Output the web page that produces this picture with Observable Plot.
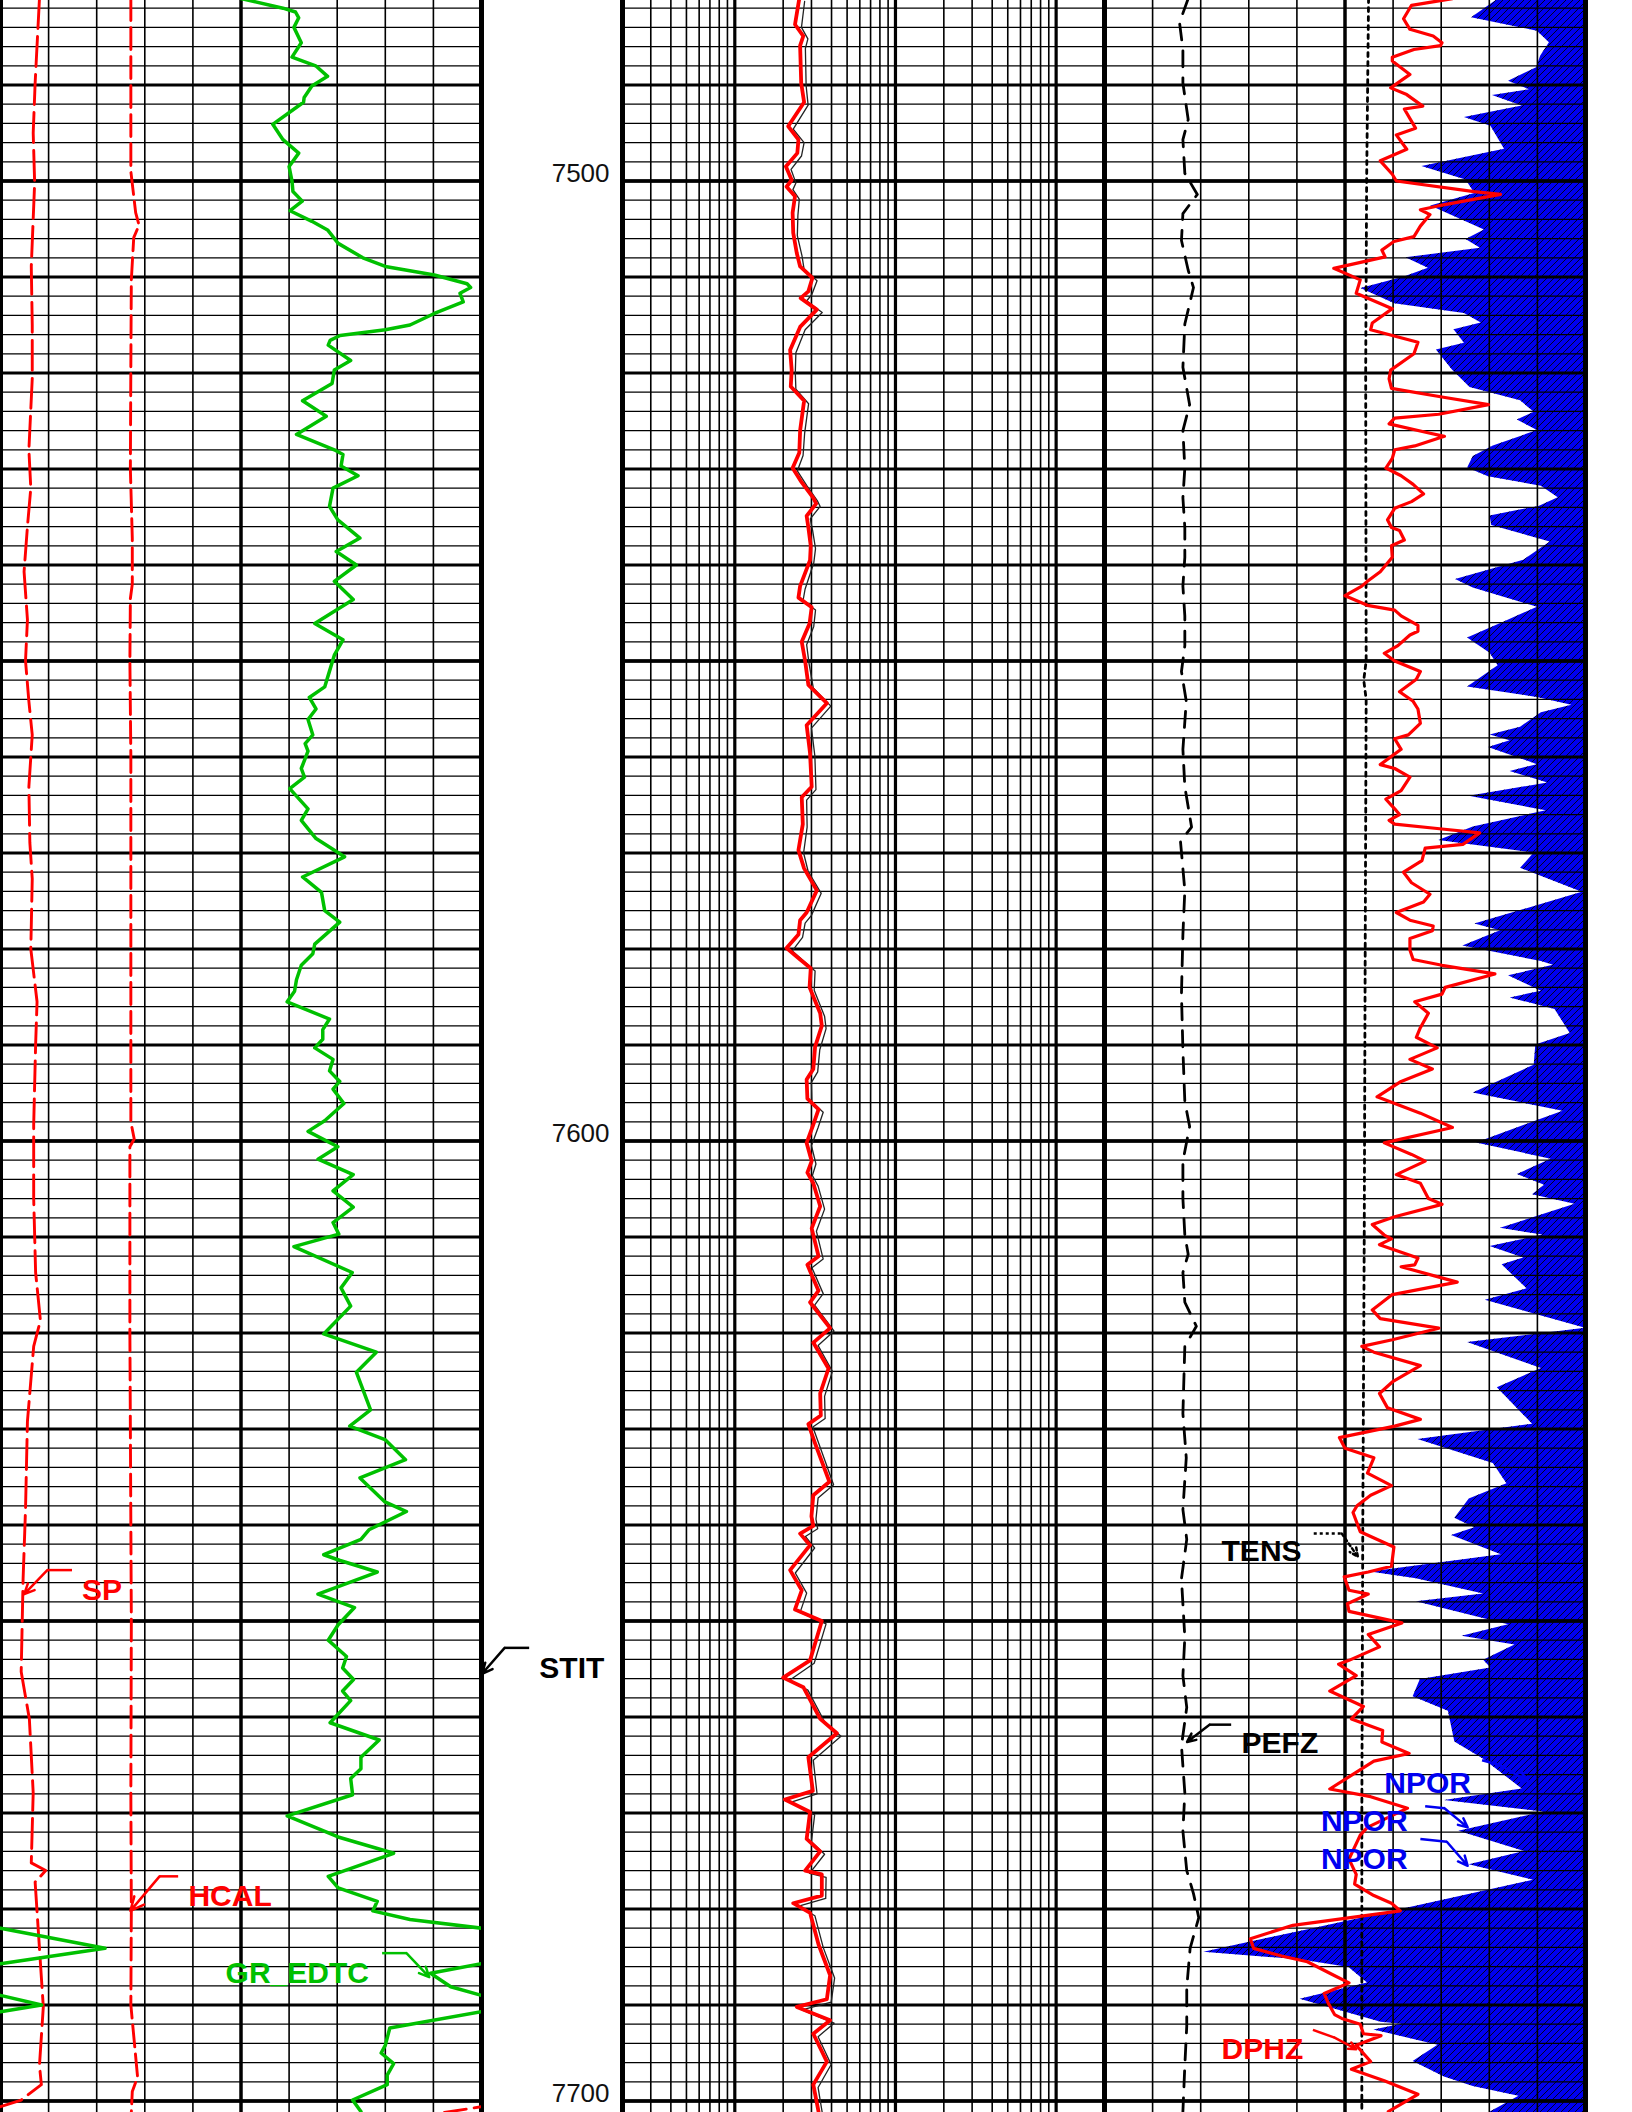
<!DOCTYPE html>
<html>
<head>
<meta charset="utf-8">
<script src="https://cdn.jsdelivr.net/npm/d3@7"></script>
<script src="https://cdn.jsdelivr.net/npm/@observablehq/plot@0.6"></script>
<style>
html, body { margin: 0; padding: 0; background: #fff; overflow: hidden; }
#log { position: relative; width: 1632px; height: 2112px; background: #fff; }
.trk { position: absolute; top: 0; }
</style>
</head>
<body>
<div id="log"></div>
<script>
// ---------------- DATA: [depth (ft), value] ----------------
// Track 1: GR_EDTC (gAPI, 0-150, wraps), SP (mV), HCAL (in)
const gr = [
[7481.0,75.0],[7482.0,88.1],[7482.4,92.0],[7483.0,93.0],[7484.0,91.5],[7485.6,93.8],[7487.1,90.9],[7488.0,98.3],
[7489.1,102.0],[7490.1,97.1],[7491.3,94.7],[7491.8,94.5],[7494.1,84.9],[7495.7,88.1],[7497.1,93.0],[7498.5,90.0],
[7500.0,90.9],[7501.1,91.2],[7502.1,94.1],[7503.1,90.3],[7504.2,97.1],[7505.1,102.0],[7506.5,105.3],[7508.0,113.0],
[7508.9,120.0],[7509.8,135.3],[7510.7,145.5],[7511.1,146.6],[7511.7,143.3],[7512.6,144.3],[7513.8,135.3],[7515.0,127.7],
[7515.5,120.0],[7516.1,105.9],[7516.6,102.8],[7517.1,102.2],[7518.7,109.2],[7519.7,104.1],[7521.1,103.4],[7522.9,94.2],
[7524.5,101.6],[7526.4,92.3],[7528.0,104.1],[7528.5,106.8],[7529.7,106.2],[7530.7,111.5],[7532.0,103.7],[7533.9,102.6],
[7535.3,105.2],[7537.2,112.1],[7538.6,104.7],[7540.0,111.0],[7541.7,104.1],[7543.6,110.0],[7546.1,98.0],[7547.8,106.8],
[7549.4,104.1],[7551.5,102.2],[7552.7,101.1],[7553.8,96.3],[7555.0,98.4],[7556.1,95.9],[7557.7,97.4],[7558.6,95.0],
[7559.4,95.9],[7561.2,93.8],[7562.1,94.8],[7563.3,90.2],[7565.4,95.9],[7566.6,93.8],[7568.5,98.4],[7570.4,107.3],
[7572.5,94.2],[7574.1,100.1],[7576.0,101.1],[7577.2,105.8],[7579.5,98.0],[7580.5,97.4],[7581.7,93.8],[7583.2,92.3],
[7584.4,91.7],[7585.5,89.4],[7587.3,102.6],[7588.4,100.5],[7589.4,100.5],[7590.3,98.0],[7591.5,103.7],[7592.7,102.6],
[7593.8,105.8],[7594.6,103.7],[7596.1,107.1],[7597.9,101.1],[7599.0,95.9],[7600.6,105.2],[7601.9,99.0],[7603.5,110.0],
[7605.2,103.7],[7606.9,110.0],[7608.5,103.7],[7609.7,105.5],[7611.0,91.5],[7613.7,109.7],[7615.3,106.2],[7617.2,109.2],
[7620.1,100.8],[7622.0,117.2],[7624.1,111.0],[7628.0,115.4],[7629.7,108.9],[7631.1,119.9],[7633.2,126.3],[7635.1,112.1],
[7637.6,119.9],[7638.6,126.6],[7640.5,114.9],[7641.5,112.4],[7643.1,100.8],[7643.7,105.9],[7644.9,117.5],[7647.2,99.0],
[7648.6,110.4],[7650.4,105.3],[7652.0,102.2],[7653.7,107.9],[7654.9,106.7],[7656.1,110.1],[7657.3,106.7],[7658.3,109.2],
[7660.6,102.8],[7662.4,118.1],[7664.2,112.4],[7665.4,112.4],[7666.4,109.2],[7668.1,109.8],[7670.3,89.4],[7672.5,105.3],
[7674.2,122.6],[7676.6,102.2],[7677.8,105.3],[7679.2,117.5],[7680.2,116.1],[7681.1,127.7],[7682.0,150.0],[7684.1,182.6],
[7685.7,150.0],[7686.7,134.1],[7688.1,140.4],[7689.0,150.0],[7690.0,162.8],[7690.7,150.0],[7692.4,121.4],[7694.2,120.0],
[7695.0,118.7],[7696.1,122.6],[7697.3,120.6],[7698.3,120.6],[7699.9,109.8],[7701.1,112.4]
];
const sp = [
[7481.0,-71.9],[7489.8,-72.8],[7495.0,-73.2],[7500.2,-72.9],[7508.9,-73.6],[7515.0,-73.4],[7520.6,-73.4],[7528.0,-74.1],
[7532.0,-73.7],[7536.0,-74.4],[7540.7,-75.1],[7545.7,-74.4],[7550.0,-74.8],[7554.2,-74.1],[7557.7,-73.4],[7563.1,-74.1],
[7568.9,-73.9],[7572.7,-73.4],[7580.0,-73.7],[7585.5,-72.4],[7590.0,-72.7],[7598.3,-73.1],[7606.0,-73.1],[7613.7,-72.7],
[7618.7,-71.7],[7621.4,-73.1],[7629.2,-74.4],[7638.4,-74.8],[7645.6,-75.3],[7655.3,-75.7],[7660.2,-74.0],[7667.9,-73.2],
[7675.2,-73.6],[7676.0,-70.6],[7677.2,-72.8],[7684.1,-71.9],[7690.2,-71.1],[7696.3,-71.9],[7698.3,-71.5],[7699.9,-75.7],
[7700.6,-80.0],[7701.2,-87.7]
];
const hcal = [
[7481.0,8.71],[7499.0,8.71],[7503.3,8.81],[7504.6,8.88],[7505.9,8.77],[7510.3,8.72],[7519.0,8.71],[7530.0,8.70],
[7537.2,8.74],[7542.0,8.74],[7543.5,8.70],[7550.0,8.69],[7560.0,8.71],[7580.0,8.71],[7598.0,8.71],[7599.8,8.78],
[7600.6,8.69],[7620.0,8.69],[7640.0,8.71],[7650.0,8.72],[7668.0,8.71],[7680.0,8.72],[7690.0,8.71],[7697.5,8.85],
[7699.0,8.74],[7701.2,8.72]
];
// Track 2: resistivity (ohm.m, log 0.2-200)
const resDeep = [
[7481.0,2.52],[7483.7,2.37],[7484.9,2.67],[7485.9,2.55],[7489.8,2.59],[7491.8,2.70],[7494.3,2.15],[7495.7,2.49],
[7497.1,2.45],[7498.5,2.08],[7499.9,2.26],[7500.6,2.10],[7501.6,2.37],[7503.3,2.29],[7505.4,2.31],[7507.5,2.43],
[7508.9,2.55],[7510.1,3.04],[7511.5,2.87],[7512.2,2.57],[7513.4,3.24],[7515.2,2.55],[7517.6,2.21],[7519.7,2.26],
[7521.4,2.23],[7522.9,2.70],[7526.0,2.55],[7528.3,2.52],[7529.9,2.29],[7531.4,2.61],[7533.0,3.08],[7533.6,3.21],
[7534.9,2.80],[7536.1,2.87],[7538.0,2.97],[7539.5,2.94],[7542.2,2.55],[7543.4,2.49],[7544.4,3.01],[7546.1,2.92],
[7548.0,2.61],[7550.0,2.74],[7552.5,2.87],[7554.4,3.74],[7556.7,2.80],[7559.6,2.94],[7563.1,3.01],[7564.2,2.61],
[7567.0,2.65],[7569.7,2.49],[7571.6,2.70],[7573.9,3.24],[7576.2,2.80],[7577.0,2.55],[7578.5,2.49],[7579.9,2.10],
[7581.1,2.55],[7582.0,2.97],[7584.0,2.92],[7586.7,3.40],[7588.0,3.48],[7590.2,3.16],[7592.5,3.08],[7593.6,2.80],
[7595.6,2.83],[7596.7,3.32],[7598.3,3.08],[7600.2,2.80],[7602.1,3.01],[7603.3,2.83],[7604.4,3.08],[7606.8,3.40],
[7609.1,3.01],[7612.0,3.32],[7612.9,2.83],[7615.6,3.32],[7616.8,2.94],[7619.5,3.92],[7621.0,3.08],[7623.7,3.83],
[7626.3,3.40],[7628.6,3.43],[7629.5,2.87],[7631.5,3.16],[7635.5,3.88],[7636.9,3.08],[7639.1,3.00],[7640.1,3.08],
[7640.9,2.55],[7642.1,2.94],[7644.7,2.21],[7646.8,2.61],[7648.8,2.37],[7650.0,3.48],[7654.1,2.94],[7655.9,2.00],
[7656.9,2.67],[7660.2,3.40],[7661.7,4.32],[7664.2,2.87],[7667.7,3.06],[7668.6,2.05],[7669.9,2.94],[7672.7,2.80],
[7674.0,3.40],[7676.0,2.74],[7676.4,3.48],[7678.6,3.48],[7679.4,2.31],[7680.4,2.94],[7683.7,3.32],[7686.9,3.92],
[7689.4,3.74],[7690.2,2.43],[7691.6,3.92],[7693.0,3.08],[7695.9,3.74],[7698.3,3.08],[7701.1,3.32]
];
const resShallow = [
[7481.3,2.72],[7484.0,2.60],[7485.2,2.85],[7486.2,2.75],[7490.1,2.78],[7492.1,2.86],[7494.6,2.31],[7496.0,2.70],
[7497.4,2.60],[7498.8,2.24],[7500.2,2.40],[7500.9,2.30],[7501.9,2.52],[7503.6,2.47],[7505.7,2.45],[7507.8,2.62],
[7509.2,2.70],[7510.4,3.25],[7511.8,3.02],[7512.5,2.80],[7513.7,3.50],[7515.5,2.74],[7517.9,2.40],[7520.0,2.38],
[7521.7,2.40],[7523.2,2.88],[7526.3,2.72],[7528.6,2.66],[7530.2,2.45],[7531.7,2.80],[7533.3,3.26],[7533.9,3.40],
[7535.2,2.95],[7536.4,3.05],[7538.3,3.18],[7539.8,3.10],[7542.5,2.74],[7543.7,2.66],[7544.7,3.18],[7546.4,3.10],
[7548.3,2.80],[7550.3,2.90],[7552.8,3.08],[7554.7,3.96],[7557.0,3.00],[7559.9,3.15],[7563.4,3.20],[7564.5,2.80],
[7567.3,2.82],[7570.0,2.68],[7571.9,2.86],[7574.2,3.45],[7576.5,3.00],[7577.3,2.74],[7578.8,2.64],[7580.2,2.28],
[7581.4,2.75],[7582.3,3.16],[7584.3,3.12],[7587.0,3.62],[7588.3,3.70],[7590.5,3.38],[7592.8,3.28],[7593.9,3.00],
[7595.9,3.02],[7597.0,3.55],[7598.6,3.30],[7600.5,3.00],[7602.4,3.20],[7603.6,3.04],[7604.7,3.30],[7607.1,3.62],
[7609.4,3.22],[7612.3,3.55],[7613.2,3.02],[7615.9,3.55],[7617.1,3.14],[7619.8,4.15],[7621.3,3.30],[7624.0,4.05],
[7626.6,3.62],[7628.9,3.65],[7629.8,3.06],[7631.8,3.38],[7635.8,4.12],[7637.2,3.30],[7639.4,3.20],[7640.4,3.28],
[7641.2,2.75],[7642.4,3.14],[7645.0,2.38],[7647.1,2.80],[7649.1,2.55],[7650.3,3.70],[7654.4,3.12],[7656.2,2.18],
[7657.2,2.85],[7660.5,3.62],[7662.0,4.58],[7664.5,3.08],[7668.0,3.25],[7668.9,2.22],[7670.2,3.14],[7673.0,3.00],
[7674.3,3.62],[7676.3,2.92],[7676.7,3.70],[7678.9,3.68],[7679.7,2.50],[7680.7,3.15],[7684.0,3.55],[7687.2,4.18],
[7689.7,3.98],[7690.5,2.62],[7691.9,4.15],[7693.3,3.30],[7696.2,3.98],[7698.6,3.30],[7701.2,3.50]
];
// Track 3: DPHZ, NPOR (v/v, 0.45 to -0.15), PEFZ (b/e, 0-10), TENS (lbf, 0-10000)
const dphz = [
[7481.0,0.016],[7481.7,0.067],[7483.1,0.077],[7484.2,0.069],[7484.9,0.040],[7485.6,0.029],[7485.9,0.031],[7486.3,0.064],
[7487.1,0.091],[7487.5,0.091],[7488.9,0.069],[7490.3,0.093],[7491.0,0.073],[7492.2,0.053],[7492.5,0.076],[7494.5,0.062],
[7495.2,0.086],[7496.7,0.073],[7497.9,0.106],[7499.3,0.091],[7500.0,0.086],[7501.1,-0.011],[7501.4,-0.044],[7502.6,0.034],
[7503.0,0.056],[7503.5,0.044],[7504.7,0.056],[7505.8,0.064],[7506.3,0.089],[7507.2,0.104],[7507.9,0.100],[7509.1,0.164],
[7510.3,0.131],[7511.7,0.136],[7513.3,0.091],[7514.8,0.116],[7515.5,0.118],[7516.8,0.059],[7518.0,0.064],[7519.7,0.093],
[7520.6,0.095],[7521.6,0.092],[7522.5,0.029],[7523.3,-0.029],[7524.3,0.033],[7524.7,0.088],[7525.3,0.095],[7526.2,0.048],
[7526.6,0.026],[7527.6,0.063],[7528.0,0.088],[7528.9,0.091],[7529.9,0.099],[7530.7,0.080],[7531.6,0.065],[7532.6,0.052],
[7533.4,0.067],[7534.1,0.088],[7535.3,0.097],[7536.1,0.092],[7536.4,0.082],[7537.4,0.076],[7538.0,0.092],[7539.2,0.091],
[7540.7,0.106],[7541.7,0.122],[7542.2,0.129],[7543.2,0.150],[7544.2,0.122],[7544.7,0.088],[7545.3,0.080],[7546.3,0.059],
[7546.9,0.059],[7547.3,0.069],[7548.4,0.084],[7549.2,0.101],[7550.0,0.088],[7551.1,0.056],[7551.9,0.061],[7553.2,0.082],
[7554.2,0.065],[7555.0,0.059],[7556.5,0.056],[7557.7,0.071],[7558.1,0.088],[7559.2,0.080],[7560.8,0.106],[7561.2,0.088],
[7562.1,0.069],[7563.5,0.080],[7564.4,0.099],[7565.4,0.088],[7566.0,0.082],[7566.6,0.095],[7567.0,0.088],[7567.5,0.029],
[7567.9,-0.018],[7569.1,0.003],[7569.5,0.050],[7570.8,0.054],[7572.0,0.077],[7573.1,0.067],[7574.3,0.044],[7575.1,0.052],
[7576.2,0.086],[7577.0,0.069],[7577.6,0.040],[7578.1,0.041],[7578.9,0.069],[7580.1,0.069],[7581.1,0.065],[7581.7,0.029],
[7582.6,-0.037],[7584.0,0.025],[7584.7,0.029],[7585.5,0.063],[7586.7,0.046],[7588.2,0.056],[7589.2,0.061],[7590.3,0.035],
[7591.5,0.069],[7592.5,0.041],[7593.8,0.080],[7595.4,0.110],[7597.1,0.056],[7598.6,0.016],[7600.2,0.101],[7601.4,0.067],
[7602.1,0.050],[7603.5,0.086],[7604.4,0.056],[7606.0,0.046],[7606.6,0.029],[7607.9,0.088],[7608.7,0.116],[7609.8,0.101],
[7610.2,0.092],[7610.8,0.107],[7612.2,0.059],[7612.9,0.063],[7613.1,0.080],[7614.7,0.010],[7616.0,0.091],[7617.6,0.116],
[7618.5,0.106],[7619.5,0.033],[7620.7,0.091],[7621.4,0.129],[7622.0,0.114],[7623.4,0.056],[7625.1,0.091],[7626.3,0.107],
[7627.8,0.097],[7629.0,0.056],[7629.7,0.088],[7630.9,0.157],[7632.0,0.150],[7633.0,0.114],[7634.6,0.122],[7635.9,0.092],
[7636.9,0.118],[7638.0,0.135],[7638.7,0.140],[7640.7,0.131],[7642.3,0.089],[7644.3,0.092],[7644.9,0.121],[7645.4,0.151],
[7646.8,0.145],[7647.2,0.121],[7648.2,0.147],[7649.0,0.145],[7650.2,0.079],[7651.4,0.121],[7652.7,0.107],[7654.1,0.145],
[7654.5,0.158],[7655.7,0.136],[7657.3,0.169],[7658.9,0.127],[7660.2,0.142],[7661.4,0.103],[7662.6,0.104],[7663.8,0.070],
[7664.6,0.114],[7667.5,0.169],[7668.3,0.118],[7669.5,0.072],[7671.5,0.122],[7672.3,0.131],[7674.8,0.145],[7676.4,0.136],
[7677.4,0.138],[7678.6,0.114],[7679.4,0.092],[7680.2,0.081],[7681.7,0.215],[7683.1,0.268],[7684.1,0.264],[7684.9,0.229],
[7685.5,0.197],[7686.9,0.164],[7687.7,0.145],[7688.8,0.176],[7689.8,0.171],[7691.0,0.163],[7691.4,0.154],[7692.0,0.131],
[7693.0,0.127],[7693.2,0.105],[7694.2,0.136],[7695.9,0.118],[7696.7,0.142],[7697.9,0.101],[7699.3,0.059],[7701.1,0.096]
];
const npor = [
[7481.0,-0.042],[7483.0,-0.008],[7484.4,-0.090],[7485.6,-0.105],[7487.0,-0.094],[7488.2,-0.089],[7489.6,-0.054],[7490.5,-0.080],
[7491.1,-0.034],[7492.2,-0.071],[7493.4,0.001],[7494.3,-0.032],[7496.7,-0.049],[7498.5,0.054],[7499.9,-0.001],[7501.3,-0.012],
[7502.6,0.043],[7505.1,-0.024],[7506.1,-0.001],[7507.0,-0.019],[7508.0,0.074],[7509.1,0.046],[7510.0,0.076],[7511.2,0.130],
[7512.8,0.088],[7513.8,0.001],[7514.8,-0.020],[7515.5,0.014],[7516.9,0.001],[7517.6,0.036],[7519.7,0.016],[7521.5,-0.006],
[7522.9,-0.069],[7524.1,-0.086],[7524.9,-0.065],[7526.0,-0.090],[7527.6,-0.035],[7528.7,-0.010],[7529.9,-0.003],[7530.8,-0.029],
[7531.8,-0.095],[7533.0,-0.116],[7533.9,-0.092],[7534.9,-0.031],[7535.9,-0.033],[7537.6,-0.106],[7539.5,-0.073],[7541.5,0.012],
[7542.4,-0.010],[7544.4,-0.090],[7545.9,-0.050],[7547.6,-0.003],[7549.2,-0.031],[7550.5,-0.041],[7552.7,-0.003],[7553.8,-0.090],
[7554.6,-0.133],[7555.4,-0.095],[7556.9,-0.069],[7557.7,-0.031],[7558.3,-0.056],[7559.0,-0.029],[7560.8,-0.090],[7561.5,-0.056],
[7562.7,-0.103],[7564.1,-0.005],[7565.6,-0.101],[7567.3,-0.010],[7568.7,0.033],[7570.0,-0.086],[7571.6,-0.069],[7574.1,-0.146],
[7577.4,-0.012],[7578.1,-0.044],[7579.7,0.003],[7581.3,-0.095],[7581.7,-0.110],[7582.8,-0.054],[7584.4,-0.095],[7585.1,-0.056],
[7586.3,-0.112],[7588.8,-0.131],[7590.0,-0.088],[7592.1,-0.086],[7595.0,-0.010],[7596.9,-0.122],[7600.2,-0.014],[7601.9,-0.107],
[7603.5,-0.065],[7604.6,-0.099],[7605.6,-0.084],[7606.6,-0.137],[7609.1,-0.044],[7609.8,-0.097],[7611.0,-0.031],[7612.2,-0.073],
[7612.9,-0.046],[7615.4,-0.077],[7616.6,-0.025],[7619.5,-0.150],[7621.0,-0.003],[7623.7,-0.095],[7625.7,-0.040],[7629.5,-0.084],
[7631.1,0.059],[7633.6,-0.035],[7635.7,-0.052],[7637.3,-0.005],[7639.3,0.013],[7640.3,-0.012],[7641.1,0.017],[7643.1,-0.045],
[7644.9,0.118],[7645.6,0.061],[7647.2,-0.023],[7648.0,0.061],[7650.4,-0.054],[7651.6,0.004],[7652.5,-0.062],[7654.1,-0.023],
[7654.9,-0.032],[7656.1,0.056],[7657.9,0.065],[7659.4,0.021],[7662.6,0.013],[7664.4,-0.023],[7667.5,-0.071],[7668.7,0.026],
[7669.9,-0.098],[7671.9,0.008],[7674.0,-0.074],[7675.4,-0.005],[7677.0,-0.085],[7679.6,0.056],[7682.1,0.193],[7684.5,0.326],
[7685.3,0.206],[7686.1,0.145],[7687.7,0.122],[7689.4,0.206],[7691.8,0.105],[7692.0,0.079],[7692.6,0.114],[7694.2,0.034],
[7695.9,0.065],[7697.5,0.026],[7698.5,-0.010],[7699.5,-0.067],[7700.7,-0.041],[7701.2,-0.030]
];
const pefz = [
[7481.0,1.74],[7483.5,1.56],[7486.3,1.63],[7489.8,1.63],[7493.6,1.74],[7495.7,1.63],[7499.2,1.67],[7501.4,1.93],
[7503.4,1.63],[7506.2,1.60],[7509.3,1.74],[7511.1,1.85],[7514.9,1.67],[7519.4,1.63],[7523.3,1.77],[7526.0,1.63],
[7529.9,1.67],[7533.0,1.63],[7536.1,1.67],[7539.2,1.67],[7542.2,1.63],[7545.3,1.67],[7548.4,1.67],[7551.1,1.60],
[7554.2,1.70],[7559.2,1.63],[7563.1,1.67],[7567.3,1.81],[7568.8,1.58],[7573.9,1.67],[7578.5,1.63],[7584.7,1.60],
[7590.5,1.63],[7595.9,1.67],[7598.5,1.77],[7602.1,1.63],[7606.0,1.63],[7609.8,1.67],[7611.8,1.74],[7613.7,1.63],
[7616.8,1.67],[7619.3,1.91],[7621.4,1.67],[7628.4,1.63],[7633.0,1.70],[7638.4,1.63],[7641.5,1.71],[7645.6,1.60],
[7651.7,1.67],[7655.7,1.63],[7659.0,1.71],[7663.0,1.60],[7667.9,1.67],[7671.9,1.63],[7676.0,1.71],[7678.4,1.85],
[7680.9,1.96],[7684.1,1.78],[7688.2,1.71],[7692.2,1.71],[7696.3,1.67],[7701.1,1.63]
];
const tens = [
[7481.0,5490],[7500.0,5450],[7520.0,5430],[7550.0,5440],[7552.0,5390],[7554.0,5440],[7580.0,5420],[7610.0,5400],
[7640.0,5370],[7670.0,5350],[7701.2,5350]
];
// Depth labels
const depthLabels = [7500, 7600, 7700];
// Curve labels: [name, depth, x-in-track-units]
const labels1 = [["SP", 7646.8, 25.4], ["HCAL", 7678.7, 58.6], ["GR_EDTC", 7686.7, 70.2]];
const labelsDepth = [["STIT", 7654.9, 0.41]];
const labels3 = [["TENS", 7642.7, 0.304], ["PEFZ", 7662.8, 0.279], ["NPOR", 7666.9, 0.101], ["NPOR", 7670.9, 0.18], ["NPOR", 7674.8, 0.18], ["DPHZ", 7694.6, 0.304]];
// Callout arrows: [name, flagDepth, flagX, elbowDepth, elbowX, tipDepth, tipX]
const arrows1 = [["SP", 7644.7, 22.3, 7644.7, 14.6, 7647.2, 7.4], ["HCAL", 7676.6, 55.4, 7676.6, 49.6, 7680.2, 40.5], ["GR_EDTC", 7684.6, 119.0, 7684.6, 126.6, 7687.1, 133.7]];
const arrowsDepth = [["STIT", 7652.8, 0.338, 7652.8, 0.164, 7655.5, 0.004]];
const arrows3 = [["TENS", 7640.9, 0.189, 7640.9, 0.154, 7643.3, 0.134], ["PEFZ", 7660.8, 0.292, 7660.8, 0.319, 7662.6, 0.347],
  ["NPOR", 7664.5, -0.021, 7665.0, -0.043, 7666.7, -0.078], ["NPOR", 7669.3, 0.050, 7669.5, 0.026, 7671.5, -0.003],
  ["NPOR", 7672.7, 0.056, 7673.0, 0.023, 7675.5, -0.003], ["DPHZ", 7692.6, 0.190, 7693.4, 0.163, 7694.6, 0.136]];

// ---------------- LAYOUT / STYLE ----------------
const RED = "#ff0000", GREEN = "#00c000", BLUE = "#0000f0", BLACK = "#000000";
const colorOf = {SP: RED, HCAL: RED, GR_EDTC: GREEN, STIT: BLACK, TENS: BLACK, PEFZ: BLACK, NPOR: BLUE, DPHZ: RED};
const FONT = "'Liberation Sans', Arial, Helvetica, sans-serif";
const H = 2112;
const TOP = 7481.2, BOTTOM = 7701.2;
const depthMinor = d3.range(7482, 7702, 2);
const depthMajor = d3.range(7490, 7702, 10);
const depthHeavy = d3.range(7500, 7702, 50);

function yScale() { return {domain: [TOP, BOTTOM], range: [0, H], axis: null}; }
function hGrid() {
  return [
    Plot.ruleY(depthMinor, {y: d => d, stroke: BLACK, strokeWidth: 1.3}),
    Plot.ruleY(depthMajor, {y: d => d, stroke: BLACK, strokeWidth: 3}),
    Plot.ruleY(depthHeavy, {y: d => d, stroke: BLACK, strokeWidth: 3.6})
  ];
}
function labelMarks(list) {
  return list.map(l => Plot.text([l], {x: d => d[2], y: d => d[1], text: d => d[0], textAnchor: "start",
    fill: colorOf[l[0]], fontSize: 30, fontWeight: "bold", fontFamily: FONT}));
}
function arrowMarks(list) {
  return list.flatMap(a => {
    const dash = a[0] === "TENS" ? "3,3" : null;
    const c = colorOf[a[0]];
    return [
      Plot.link([a], {x1: d => d[2], y1: d => d[1], x2: d => d[4], y2: d => d[3], stroke: c, strokeWidth: 2.5, strokeDasharray: dash}),
      Plot.arrow([a], {x1: d => d[4], y1: d => d[3], x2: d => d[6], y2: d => d[5], stroke: c, strokeWidth: 2.5, headLength: 13, headAngle: 50, strokeDasharray: dash})
    ];
  });
}
function place(svg, left) {
  const div = document.createElement("div");
  div.className = "trk";
  div.style.left = left + "px";
  div.appendChild(svg);
  document.getElementById("log").appendChild(div);
}
const baseStyle = {overflow: "visible", background: "transparent", fontFamily: FONT};

// ---------------- TRACK 1 ----------------
const W1 = 481;
const grTicks = d3.range(0, 151, 15);
const track1 = Plot.plot({
  width: W1, height: H, margin: 0, style: baseStyle,
  x: {domain: [0, 150], range: [0, W1], axis: null},
  y: yScale(),
  marks: [
    ...hGrid(),
    Plot.ruleX(grTicks, {x: d => d, stroke: BLACK, strokeWidth: 1.6}),
    Plot.ruleX([75], {x: d => d, stroke: BLACK, strokeWidth: 3.5}),
    Plot.ruleX([0, 150], {x: d => d, stroke: BLACK, strokeWidth: 5}),
    // SP (scale -80..20 mV) with wrap-around backup
    Plot.line(sp, {x: d => (d[1] + 80) * 1.5, y: d => d[0], stroke: RED, strokeWidth: 2.9, strokeDasharray: "30,8", clip: true}),
    Plot.line(sp, {x: d => (d[1] + 180) * 1.5, y: d => d[0], stroke: RED, strokeWidth: 2.9, strokeDasharray: "30,8", clip: true}),
    // HCAL (scale 6..16 in)
    Plot.line(hcal, {x: d => (d[1] - 6) * 15, y: d => d[0], stroke: RED, strokeWidth: 2.9, strokeDasharray: "22,7", clip: true}),
    // GR (0..150) with wrap-around backup (150..300)
    Plot.line(gr, {x: d => d[1], y: d => d[0], stroke: GREEN, strokeWidth: 3.5, clip: true}),
    Plot.line(gr, {x: d => d[1] - 150, y: d => d[0], stroke: GREEN, strokeWidth: 3.5, clip: true}),
    ...labelMarks(labels1),
    ...arrowMarks(arrows1)
  ]
});
place(track1, 0);

// ---------------- DEPTH TRACK ----------------
const WD = 141;
const depthTrack = Plot.plot({
  width: WD, height: H, margin: 0, style: baseStyle,
  x: {domain: [0, 1], range: [0, WD], axis: null},
  y: yScale(),
  marks: [
    Plot.text(depthLabels, {x: () => 0.908, y: d => d, text: d => String(d), textAnchor: "end", lineAnchor: "bottom",
      dy: 1, fontSize: 26, fill: "#111", fontFamily: FONT}),
    ...labelMarks(labelsDepth),
    ...arrowMarks(arrowsDepth)
  ]
});
place(depthTrack, 481);

// ---------------- TRACK 2 (log) ----------------
const W2 = 482;
const logMinor = [0.3,0.4,0.5,0.6,0.7,0.8,0.9,2,3,4,5,6,7,8,9,20,30,40,50,60,70,80,90];
const logMajor = [1, 10, 100];
const track2 = Plot.plot({
  width: W2, height: H, margin: 0, style: baseStyle,
  x: {type: "log", domain: [0.2, 200], range: [0, W2], axis: null},
  y: yScale(),
  marks: [
    ...hGrid(),
    Plot.ruleX(logMinor, {x: d => d, stroke: BLACK, strokeWidth: 1.6}),
    Plot.ruleX(logMajor, {x: d => d, stroke: BLACK, strokeWidth: 3.2}),
    Plot.ruleX([0.2, 200], {x: d => d, stroke: BLACK, strokeWidth: 5}),
    Plot.line(resShallow, {x: d => d[1], y: d => d[0], stroke: "#222", strokeWidth: 1.3, clip: true}),
    Plot.line(resDeep, {x: d => d[1], y: d => d[0], stroke: RED, strokeWidth: 3.8, clip: true})
  ]
});
place(track2, 622);

// ---------------- TRACK 3 ----------------
const W3 = 481;
const porTicks = d3.range(0, 11).map(i => 0.45 - i * 0.06);
const hatchDefs = () => {
  const ns = "http://www.w3.org/2000/svg";
  const defs = document.createElementNS(ns, "defs");
  defs.innerHTML = '<pattern id="npor-hatch" patternUnits="userSpaceOnUse" width="7" height="7">' +
    '<path d="M-1,1 l2,-2 M0,7 l7,-7 M6,8 l2,-2" stroke="#000" stroke-width="1" stroke-opacity="0.85"/></pattern>';
  return defs;
};
const track3 = Plot.plot({
  width: W3, height: H, margin: 0, style: baseStyle,
  x: {domain: [0.45, -0.15], range: [0, W3], axis: null},
  y: yScale(),
  marks: [
    hatchDefs,
    Plot.areaX(npor, {y: d => d[0], x1: d => d[1], x2: () => -0.15, fill: BLUE, clip: true}),
    Plot.areaX(npor, {y: d => d[0], x1: d => d[1], x2: () => -0.15, fill: "url(#npor-hatch)", clip: true}),
    ...hGrid(),
    Plot.ruleX(porTicks, {x: d => d, stroke: BLACK, strokeWidth: 1.6}),
    Plot.ruleX([0.15], {x: d => d, stroke: BLACK, strokeWidth: 3.5}),
    Plot.ruleX([0.45, -0.15], {x: d => d, stroke: BLACK, strokeWidth: 5}),
    // PEFZ (0..10) and TENS (0..10000) mapped onto track width
    Plot.line(pefz, {x: d => 0.45 - d[1] * 0.06, y: d => d[0], stroke: BLACK, strokeWidth: 2.8, strokeDasharray: "16,11", clip: true}),
    Plot.line(tens, {x: d => 0.45 - d[1] * 0.00006, y: d => d[0], stroke: BLACK, strokeWidth: 2.8, strokeDasharray: "4,5", clip: true}),
    Plot.line(dphz, {x: d => d[1], y: d => d[0], stroke: RED, strokeWidth: 3.2, clip: true}),
    ...labelMarks(labels3),
    ...arrowMarks(arrows3)
  ]
});
place(track3, 1104);
</script>
</body>
</html>
